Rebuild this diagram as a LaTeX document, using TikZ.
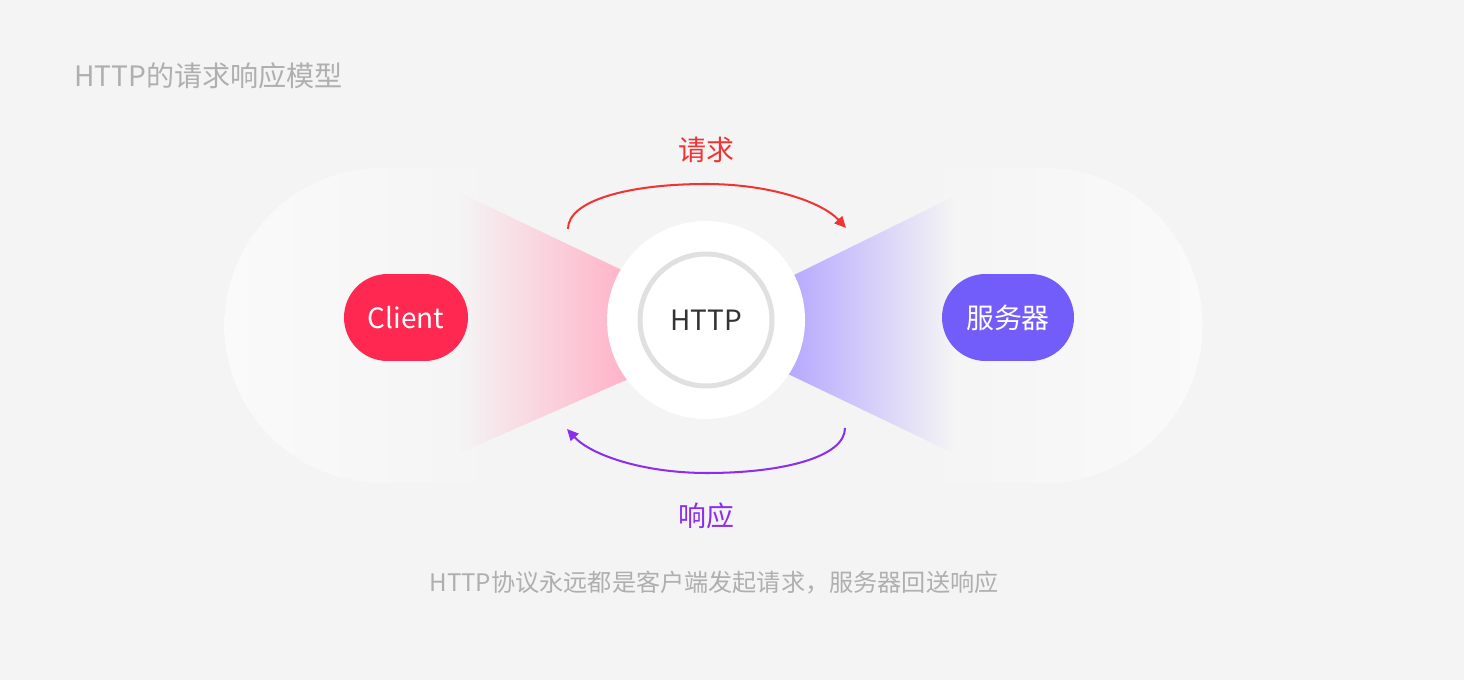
\documentclass[tikz,border=0pt]{standalone}
\usepackage{fontspec}
\setmainfont{Noto Sans CJK SC}
\usetikzlibrary{arrows.meta}

\definecolor{bgcol}{HTML}{F4F4F4}
\definecolor{blobcol}{HTML}{FAFAFA}
\definecolor{clientcol}{HTML}{FF2850}
\definecolor{servercol}{HTML}{735DFA}
\definecolor{pinkcone}{HTML}{FFB3C8}
\definecolor{purplecone}{HTML}{B6A8FF}
\definecolor{ringcol}{HTML}{E0E0E0}
\definecolor{reqcol}{HTML}{F03434}
\definecolor{respcol}{HTML}{8B2EF0}
\definecolor{notecol}{HTML}{AFAFAF}

\tikzset{
  pill/.style={rectangle, rounded corners=0.87cm, minimum height=1.74cm,
    inner sep=0pt, text=white, font=\fontsize{15.9}{19}\selectfont},
  biglabel/.style={font=\fontsize{15.9}{19}\selectfont},
  flow/.style={line width=1.15pt, -{Triangle[length=6.5pt,width=6pt]}}
}

\begin{document}
\begin{tikzpicture}[x=0.02cm,y=0.02cm]
\fill[bgcol] (0,0) rectangle (1464,680);
\useasboundingbox (0,0) rectangle (1464,680);

% soft side blobs
\shade[left color=blobcol, right color=bgcol]
  (500,512) -- (382,512) arc (90:270:157.5) -- (500,197) -- cycle;
\shade[left color=bgcol, right color=blobcol]
  (920,512) -- (1045,512) arc (90:-90:157.5) -- (920,197) -- cycle;

% cones
\shade[left color=bgcol, right color=pinkcone]
  (460,487) -- (626,408) -- (626,300) -- (460,227) -- cycle;
\fill[pinkcone] (624,409) -- (748,352) -- (624,299) -- cycle;
\shade[left color=purplecone, right color=bgcol]
  (788,402) -- (953,483) -- (953,227) -- (788,306) -- cycle;
\fill[purplecone] (790,403) -- (689,354) -- (790,305) -- cycle;

% centre
\fill[white] (706,360) circle (99);
\draw[ringcol, line width=2.83pt] (706,360) circle (66);
\node[biglabel, text=black!80] (http) at (706,360) {HTTP};

\node[pill, fill=clientcol, minimum width=2.48cm] (client) at (406,362.5) {Client};
\node[pill, fill=servercol, minimum width=2.64cm] (server) at (1008,362.5) {服务器};

% request / response
\coordinate (reqstart) at (568,451);
\coordinate (reqtop) at (706,496);
\coordinate (reqend) at (846,452);
\draw[flow, reqcol] (reqstart) .. controls (568,480) and (630,496) .. (reqtop)
  .. controls (770,496) and (822,478) .. (reqend);
\node[biglabel, text=reqcol] (reqlabel) at (706,530) {请求};

\coordinate (respstart) at (845,252);
\coordinate (respbottom) at (707,207);
\coordinate (respend) at (567,251);
\draw[flow, respcol] (respstart) .. controls (845,223) and (783,207) .. (respbottom)
  .. controls (643,207) and (591,225) .. (respend);
\node[biglabel, text=respcol] (resplabel) at (706,164) {响应};

% texts
\node[anchor=west, text=notecol, font=\fontsize{16}{19}\selectfont, inner sep=0pt] (title) at (74,604) {HTTP的请求响应模型};
\node[text=notecol, font=\fontsize{13.75}{17}\selectfont] (note) at (714,97) {HTTP协议永远都是客户端发起请求，服务器回送响应};

\end{tikzpicture}
\end{document}
